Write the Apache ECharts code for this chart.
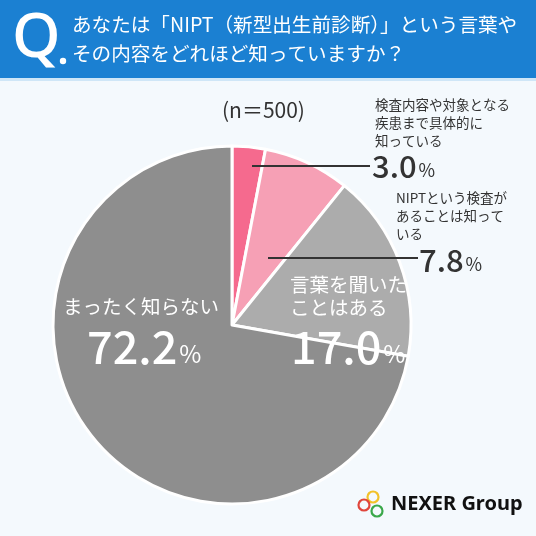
<!DOCTYPE html>
<html><head><meta charset="utf-8">
<script src="https://cdn.jsdelivr.net/npm/echarts@6/dist/echarts.min.js"></script>
<style>html,body{margin:0;padding:0;background:#f4f9fd}#c{width:536px;height:536px}</style>
</head><body><div id="c"></div>
<script>
const categories = ['検査内容や対象となる疾患まで具体的に知っている','NIPTという検査があることは知っている','言葉を聞いたことはある','まったく知らない'];
const values = [3.0, 7.8, 17.0, 72.2];
const colors = ['#f56a8e','#f6a0b5','#acacac','#8e8e8e'];
const sampleLabel = '(n＝500)';
const titleLines = ['あなたは「NIPT（新型出生前診断）」という言葉や','その内容をどれほど知っていますか？'];

const F = '"Noto Sans CJK JP","Noto Sans",sans-serif';
const chart = echarts.init(document.getElementById('c'));
const pct = v => '{n|' + v.toFixed(1) + '}{p|%}';
const darkRich = {n:{fontSize:31,fill:'#333',fontFamily:F,fontWeight:500},p:{fontSize:18,fill:'#333',fontFamily:F,padding:[8,0,0,2]}};
const whiteRich = {n:{fontSize:45,fill:'#fff',fontFamily:F,fontWeight:500},p:{fontSize:24,fill:'#fff',fontFamily:F,padding:[13,0,0,2]}};

chart.setOption({
  backgroundColor:'#f4f9fd',
  animation:false,
  series:[{
    type:'pie',
    center:[232,325],
    radius:[0,179],
    startAngle:90,
    clockwise:true,
    label:{show:false},
    labelLine:{show:false},
    emphasis:{disabled:true},
    itemStyle:{borderColor:'#ffffff',borderWidth:3},
    data: categories.map((c,i)=>({name:c,value:values[i],itemStyle:{color:colors[i]}}))
  }],
  graphic:[
    {type:'rect',shape:{x:0,y:0,width:536,height:78},style:{fill:'#1b80d2'},z:10},
    {type:'rect',shape:{x:0,y:78,width:536,height:3},style:{fill:'#cfe6f7'},z:10},
    {type:'text',x:12,y:39,style:{text:'Q',fontSize:62,fontWeight:500,fill:'#fff',fontFamily:'"Noto Sans",sans-serif',textVerticalAlign:'middle'},z:11},
    {type:'circle',shape:{cx:63,cy:61,r:3.2},style:{fill:'#fff'},z:11},
    {type:'text',x:72,y:25,style:{text:titleLines[0],fontSize:19.6,fill:'#fff',fontFamily:F,textVerticalAlign:'middle'},z:11},
    {type:'text',x:72,y:54,style:{text:titleLines[1],fontSize:19.6,fill:'#fff',fontFamily:F,textVerticalAlign:'middle'},z:11},
    {type:'text',x:222,y:110,style:{text:sampleLabel,fontSize:21,fill:'#333',fontFamily:F,textVerticalAlign:'middle'},z:11},
    {type:'text',x:375,y:96,style:{text:'検査内容や対象となる\n疾患まで具体的に\n知っている',fontSize:13.5,lineHeight:18,fill:'#333',fontFamily:F},z:11},
    {type:'line',shape:{x1:252,y1:166,x2:370,y2:166},style:{stroke:'#333',lineWidth:2},z:11},
    {type:'text',x:372,y:166,style:{text:pct(values[0]),rich:darkRich,textVerticalAlign:'middle'},z:11},
    {type:'text',x:396,y:189,style:{text:'NIPTという検査が\nあることは知って\nいる',fontSize:13.5,lineHeight:18,fill:'#333',fontFamily:F},z:11},
    {type:'line',shape:{x1:268,y1:258,x2:418,y2:258},style:{stroke:'#333',lineWidth:2},z:11},
    {type:'text',x:419,y:260,style:{text:pct(values[1]),rich:darkRich,textVerticalAlign:'middle'},z:11},
    {type:'text',x:290,y:273,style:{text:'言葉を聞いた\nことはある',fontSize:19.5,lineHeight:23,fill:'#fff',fontFamily:F},z:11},
    {type:'text',x:291,y:347,style:{text:pct(values[2]),rich:whiteRich,textVerticalAlign:'middle'},z:11},
    {type:'text',x:63,y:307,style:{text:'まったく知らない',fontSize:19.5,fill:'#fff',fontFamily:F,textVerticalAlign:'middle'},z:11},
    {type:'text',x:87,y:347,style:{text:pct(values[3]),rich:whiteRich,textVerticalAlign:'middle'},z:11},
    {type:'circle',shape:{cx:373,cy:497,r:5.5},style:{fill:'none',stroke:'#f2c22a',lineWidth:2.2},z:11},
    {type:'circle',shape:{cx:364,cy:505,r:5.5},style:{fill:'none',stroke:'#e0463c',lineWidth:2.2},z:11},
    {type:'circle',shape:{cx:377,cy:511,r:5.5},style:{fill:'none',stroke:'#3aa84a',lineWidth:2.2},z:11},
    {type:'text',x:391,y:504,style:{text:'NEXER Group',fontSize:20,fontWeight:'bold',fill:'#111',fontFamily:'"Noto Sans",sans-serif',textVerticalAlign:'middle'},z:11}
  ]
});
</script></body></html>
